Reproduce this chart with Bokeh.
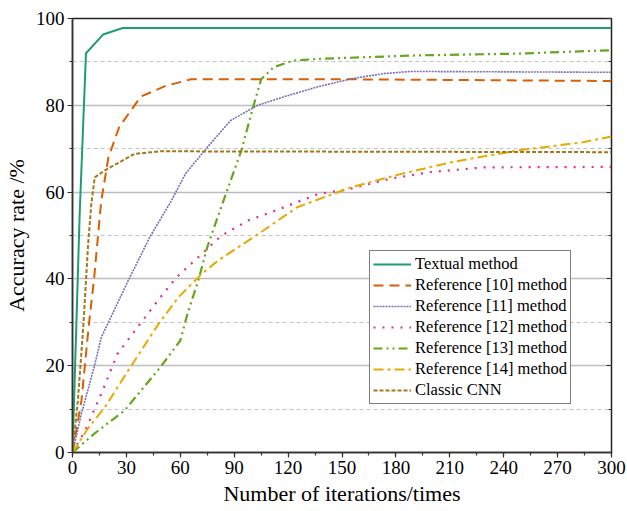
from bokeh.plotting import figure
from bokeh.models import (Legend, LegendItem, LinearAxis, SingleIntervalTicker,
                          Range1d, CustomLabelingPolicy)
from bokeh.embed import file_html
from bokeh.resources import INLINE

# ---- data ----
textual_x = [0, 4, 7.5, 17, 28, 300]
textual_y = [0, 55, 92, 96.3, 97.8, 97.8]

ref10_x = [0, 5, 9, 12, 16, 20, 26, 38, 52, 66, 150, 300]
ref10_y = [0, 12, 29, 40, 58, 68, 75, 82, 84.5, 86, 86, 85.6]

ref11_x = [0, 5, 12, 16, 31, 43, 55, 63, 75, 88, 103, 118, 136, 155, 173, 188, 300]
ref11_y = [0, 9, 19.6, 26.5, 39.6, 49.6, 58, 64.3, 70.3, 76.5, 80, 82, 84.2, 86.1, 87.3, 87.8, 87.6]

ref12_x = [0, 7, 16, 25, 39, 49, 58, 70, 83, 98, 112, 127, 137, 153, 177, 199, 229, 300]
ref12_y = [0, 5, 13.5, 22.7, 30.4, 35.8, 40.4, 45, 50, 53.5, 55.6, 58, 59.6, 60.6, 63.1, 64.6, 65.7, 65.8]

ref13_x = [0, 12, 29, 49, 60, 64, 70, 75, 84, 94, 100, 105, 112, 123, 137, 164, 192, 248, 300]
ref13_y = [0, 4.3, 9.7, 19.7, 25.8, 32, 39.6, 47.3, 58, 69.6, 78.8, 86, 88.8, 90.3, 90.7, 91.1, 91.5, 91.9, 92.7]

ref14_x = [0, 9, 18, 31, 48, 59, 72, 81, 105, 125, 155, 183, 211, 248, 284, 300]
ref14_y = [0, 5.8, 10.4, 18.9, 29.7, 35.8, 41.2, 44.2, 50.8, 56.5, 61.1, 64.2, 66.9, 69.6, 71.5, 72.8]

cnn_x = [0, 3, 6, 8.7, 10.5, 12.4, 18, 34.5, 49, 300]
cnn_y = [0, 12, 29, 48, 57.4, 63.4, 65, 68.8, 69.4, 69.2]

names = ["Textual method", "Reference [10] method", "Reference [11] method",
         "Reference [12] method", "Reference [13] method", "Reference [14] method",
         "Classic CNN"]

x_ticks_interval = 30
y_ticks_interval = 20

FONT = "Liberation Serif"

p = figure(width=627, height=511, output_backend="svg", toolbar_location=None,
           x_range=Range1d(0, 300), y_range=Range1d(0, 100),
           min_border_left=71, min_border_right=16, min_border_top=18,
           min_border_bottom=59)
p.background_fill_color = "white"
p.border_fill_color = "white"
p.outline_line_color = "#222222"
p.outline_line_width = 1.5

xt = SingleIntervalTicker(interval=x_ticks_interval, num_minor_ticks=2)
yt = SingleIntervalTicker(interval=y_ticks_interval, num_minor_ticks=2)
p.xaxis.ticker = xt
p.yaxis.ticker = yt

for ax in (p.xaxis[0], p.yaxis[0]):
    ax.axis_line_color = "#333333"
    ax.axis_line_width = 1.5
    ax.major_tick_line_color = "#333333"
    ax.minor_tick_line_color = "#333333"
    ax.major_tick_line_width = 1.2
    ax.minor_tick_line_width = 1.2
    ax.major_tick_out = 5
    ax.major_tick_in = 0
    ax.minor_tick_out = 3
    ax.minor_tick_in = 0
    ax.major_label_text_font = FONT
    ax.major_label_text_font_size = "19px"
    ax.major_label_text_color = "black"
    ax.major_label_standoff = 3
    ax.axis_label_text_font = FONT
    ax.axis_label_text_font_size = "22px"
    ax.axis_label_text_font_style = "normal"
    ax.axis_label_text_color = "black"
    ax.axis_label_standoff = 4

p.xaxis.axis_label = "Number of iterations/times"
p.yaxis.axis_label = "Accuracy rate /%"

no_labels = CustomLabelingPolicy(code="""
const all = [...indices]
for (const i of all) indices.unset(i)
return indices
""")
right = LinearAxis(ticker=SingleIntervalTicker(interval=y_ticks_interval, num_minor_ticks=2),
                   major_tick_in=5, major_tick_out=0, minor_tick_in=3, minor_tick_out=0,
                   major_label_policy=no_labels, axis_line_color=None,
                   major_label_text_font_size="8px",
                   major_tick_line_color="#333333", minor_tick_line_color="#333333",
                   major_tick_line_width=1.2, minor_tick_line_width=1.2,
                   major_label_standoff=0)
p.add_layout(right, "right")

p.xgrid.grid_line_color = None
p.ygrid.grid_line_color = "#bdbdbd"
p.ygrid.grid_line_width = 1.5
p.ygrid.minor_grid_line_color = "#c4c4c4"
p.ygrid.minor_grid_line_width = 1
p.ygrid.minor_grid_line_dash = "4 3"

colors = ["#1b9e77", "#d95f02", "#7570b3", "#e7298a", "#66a61e", "#e6ab02", "#a6761d"]
dashes = ["solid", "10 6", "2 1", "2 7", "9 4 2 4 2 4", "10 4 3 4", "4 2"]
widths = [2, 2, 1.6, 2.2, 2.2, 2, 2]
series = [(textual_x, textual_y), (ref10_x, ref10_y), (ref11_x, ref11_y),
          (ref12_x, ref12_y), (ref13_x, ref13_y), (ref14_x, ref14_y), (cnn_x, cnn_y)]

items = []
for (xs, ys), c, d, w, n in zip(series, colors, dashes, widths, names):
    r = p.line(xs, ys, line_color=c, line_dash=d, line_width=w)
    items.append(LegendItem(label=n, renderers=[r]))

legend = Legend(items=items, location=(297, 48))
legend.label_text_font = FONT
legend.label_text_font_size = "16.5px"
legend.label_text_color = "black"
legend.glyph_width = 38
legend.glyph_height = 18
legend.label_height = 18
legend.label_standoff = 4
legend.spacing = 1
legend.padding = 3
legend.margin = 0
legend.border_line_color = "black"
legend.border_line_width = 1.2
legend.background_fill_color = "white"
legend.background_fill_alpha = 1
p.add_layout(legend)

open("out.html", "w").write(file_html(p, INLINE))
